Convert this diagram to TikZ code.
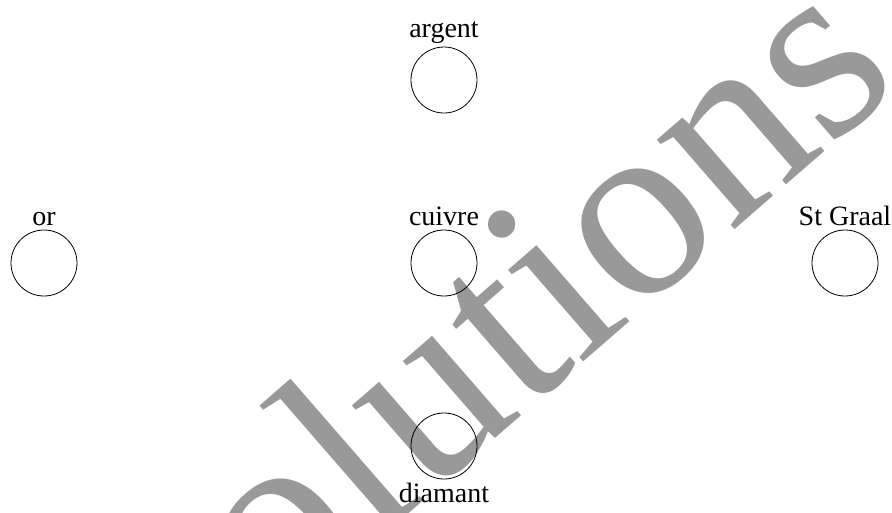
\documentclass[tikz,border=0pt]{standalone}
\usepackage{fontspec}
\setmainfont{Liberation Serif}
\tikzset{
  metal/.style={circle, draw, line width=0.8pt, minimum size=66pt, inner sep=0pt},
  every label/.style={font=\fontsize{28}{34}\selectfont},
  wmark/.style={text=black!40, inner sep=0pt, anchor=base west, rotate=41, font=\fontsize{258}{280}\selectfont}
}
\begin{document}
\begin{tikzpicture}[x=1pt,y=1pt]
\useasboundingbox (0,0) rectangle (892,-512);
\begin{scope}
\clip (0,0) rectangle (892,-512);
\node[wmark] (wm) at (168,-723) {Solutions};
\end{scope}
\node[metal, label=above:argent] (argent) at (444,-80) {};
\node[metal, label=above:or] (or) at (44,-263) {};
\node[metal, label=above:cuivre] (cuivre) at (444,-263) {};
\node[metal, label=above:St Graal] (graal) at (845,-263) {};
\node[metal, label=below:diamant] (diamant) at (444,-446) {};
\end{tikzpicture}
\end{document}
